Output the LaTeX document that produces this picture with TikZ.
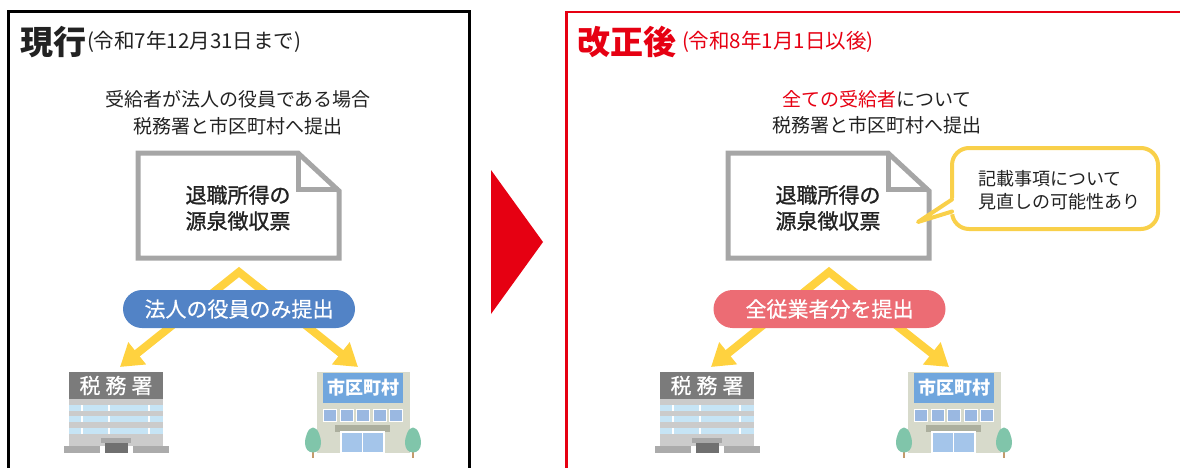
\documentclass[tikz,border=0pt]{standalone}
\usepackage{fontspec}
\setmainfont{Noto Sans CJK JP}
\newfontfamily\medfont{Noto Sans CJK JP}[FakeBold=1.2]
\newfontfamily\semifont{Noto Sans CJK JP}[FakeBold=0.5]
\usetikzlibrary{arrows.meta}

\definecolor{ink}{HTML}{222222}
\definecolor{alert}{HTML}{E60012}
\definecolor{flowyellow}{HTML}{FFD23F}
\definecolor{notebord}{HTML}{F9D04A}
\definecolor{pillblue}{HTML}{5283C6}
\definecolor{pillred}{HTML}{EC6C74}
\definecolor{docgrey}{HTML}{A6A6A6}
\definecolor{taxsign}{HTML}{7B7B7B}
\definecolor{taxbody}{HTML}{CBCBCB}
\definecolor{taxglass}{HTML}{C6E4F5}
\definecolor{taxbase}{HTML}{ABABAB}
\definecolor{taxcanopy}{HTML}{A8A8A8}
\definecolor{taxdoor}{HTML}{707070}
\definecolor{citybody}{HTML}{D7DACB}
\definecolor{citysign}{HTML}{70A6DD}
\definecolor{cityglass}{HTML}{9AB8E1}
\definecolor{citydoor}{HTML}{A4C5EA}
\definecolor{citycanopy}{HTML}{ACAF9E}
\definecolor{leaf}{HTML}{80C5AA}
\definecolor{trunk}{HTML}{C49A6C}

\newcommand\fsz[2]{\fontsize{#1}{#2}\selectfont}

\begin{document}
\begin{tikzpicture}[x=1pt,y=-1pt,
  plain/.style={inner sep=0pt, outer sep=0pt, text=ink},
  titletext/.style={plain, anchor=west, font=\fsz{33}{33}\bfseries},
  datetext/.style={plain, anchor=west, font=\fsz{20.5}{20.5}},
  subline/.style={plain, font=\fsz{19}{19}},
  doctext/.style={plain, align=center, font=\medfont\fsz{21}{26}},
  pill/.style={plain, text=white, minimum width=232pt, minimum height=38pt,
    rounded corners=19pt, font=\semifont\fsz{21}{21}},
  docline/.style={draw=docgrey, line width=5pt, line join=miter},
  flow/.style={draw=flowyellow, line width=8pt, line join=miter,
    {Triangle[length=22pt,width=27pt]}-{Triangle[length=22pt,width=27pt]}},
  % withholding slip with a folded corner
  slip/.pic={
    \draw[docline] (0,0) -- (160,0) -- (201,38) -- (201,105) -- (0,105) -- cycle;
    \draw[docline] (160,0) -- (160,36) -- (201,36);
    \node[doctext] (-text) at (100,55) {退職所得の\\源泉徴収票};
  },
  % tax office building
  taxoffice/.pic={
    \fill[taxbody] (0,27) rectangle (94,74);
    \fill[taxsign] (0,0) rectangle (94,27);
    \node[plain, text=white, font=\semifont\fsz{21}{21}] (-sign) at (47,13.5) {税\kern5pt務\kern5pt署};
    \foreach \yy in {33,44,56} {
      \fill[taxglass] (0,\yy) rectangle (94,\yy+6);
      \foreach \xx in {13,40,80}
        \draw[white, line width=1.2pt] (\xx,\yy) -- (\xx,\yy+6);
    }
    \fill[taxbase] (-5,74) rectangle (31,81);
    \fill[taxbase] (64,74) rectangle (100,81);
    \fill[taxcanopy] (32,66) rectangle (62,71);
    \fill[taxdoor] (36,71) rectangle (59,81);
    \coordinate (-in) at (51,-5);
  },
  tree/.pic={
    \draw[trunk, line width=2pt] (0,5) -- (0,18);
    \fill[leaf] (0,-12.5) .. controls (5,-12.5) and (8,-3) .. (8,3)
      .. controls (8,9) and (4.5,12.5) .. (0,12.5)
      .. controls (-4.5,12.5) and (-8,9) .. (-8,3)
      .. controls (-8,-3) and (-5,-12.5) .. (0,-12.5);
  },
  % city hall building
  cityhall/.pic={
    \fill[citybody] (0,0) rectangle (93,81);
    \fill[citysign] (6,1) rectangle (86,31);
    \node[plain, text=white, font=\fsz{18}{18}\bfseries] (-sign) at (46,16) {市区町村};
    \foreach \i in {0,...,4}
      \filldraw[fill=cityglass, draw=white, line width=1pt]
        (6.5+\i*16.6,37) rectangle (19.5+\i*16.6,49);
    \fill[citycanopy] (18,53) rectangle (73,60);
    \filldraw[fill=citydoor, draw=white, line width=1.2pt] (24,60) rectangle (67,81);
    \draw[white, line width=1.2pt] (45.5,60) -- (45.5,81);
    \pic at (-4,68) {tree};
    \pic at (96,68) {tree};
    \coordinate (-in) at (41,-5);
  }
]
\useasboundingbox (0,0) rectangle (1180,468);
\clip (0,0) rectangle (1180,468);

% panel frames
\draw[black, line width=3pt] (8.5,480) -- (8.5,11.5) -- (469.5,11.5) -- (469.5,480);
\draw[alert, line width=2.5pt] (566.5,480) -- (566.5,12) -- (1190,12);

% transition marker
\fill[alert] (491,170) -- (543,242) -- (491,314) -- cycle;

% headings
\node[titletext] (titleL) at (20,42) {現行};
\node[datetext] (dateL) at (87,42) {(令和7年12月31日まで)};
\node[titletext, text=alert] (titleR) at (577,42) {改正後};
\node[datetext, text=alert] (dateR) at (682,42) {(令和8年1月1日以後)};

\node[subline] (subL1) at (238,99) {受給者が法人の役員である場合};
\node[subline] (subL2) at (238,126) {税務署と市区町村へ提出};
\node[subline] (subR1) at (877,99) {{\color{alert}全ての受給者}について};
\node[subline] (subR2) at (877,125) {税務署と市区町村へ提出};

% buildings
\pic (taxL) at (69,372) {taxoffice};
\pic (cityL) at (317,372) {cityhall};
\pic (taxR) at (660,372) {taxoffice};
\pic (cityR) at (908,372) {cityhall};

% submission flows
\coordinate (apexL) at (239,272);
\coordinate (apexR) at (829,272);
\draw[flow] (taxL-in) -- (apexL) -- (cityL-in);
\draw[flow] (taxR-in) -- (apexR) -- (cityR-in);

\node[pill, fill=pillblue] (pillL) at (239,309) {法人の役員のみ提出};
\node[pill, fill=pillred] (pillR) at (829.5,309) {全従業者分を提出};

% slips
\pic (docL) at (138,153) {slip};
\pic (docR) at (728,153) {slip};

% note bubble
\node[plain, draw=notebord, fill=white, line width=4pt, rounded corners=17pt,
  minimum width=206pt, minimum height=81pt] (note) at (1055,188.5) {};
\coordinate (notetip) at (918,222);
\fill[white] ([xshift=3pt,yshift=-9pt]note.west) -- (notetip)
  -- ([xshift=3pt,yshift=-25pt]note.west) -- cycle;
\draw[notebord, line width=4pt, line join=round, line cap=round]
  ([yshift=-11pt]note.west) -- (notetip) -- ([yshift=-23pt]note.west);
\node[plain, anchor=west, align=left, font=\fsz{18}{22.5}] (notetext) at (978,190)
  {記載事項について\\見直しの可能性あり};
\end{tikzpicture}
\end{document}
